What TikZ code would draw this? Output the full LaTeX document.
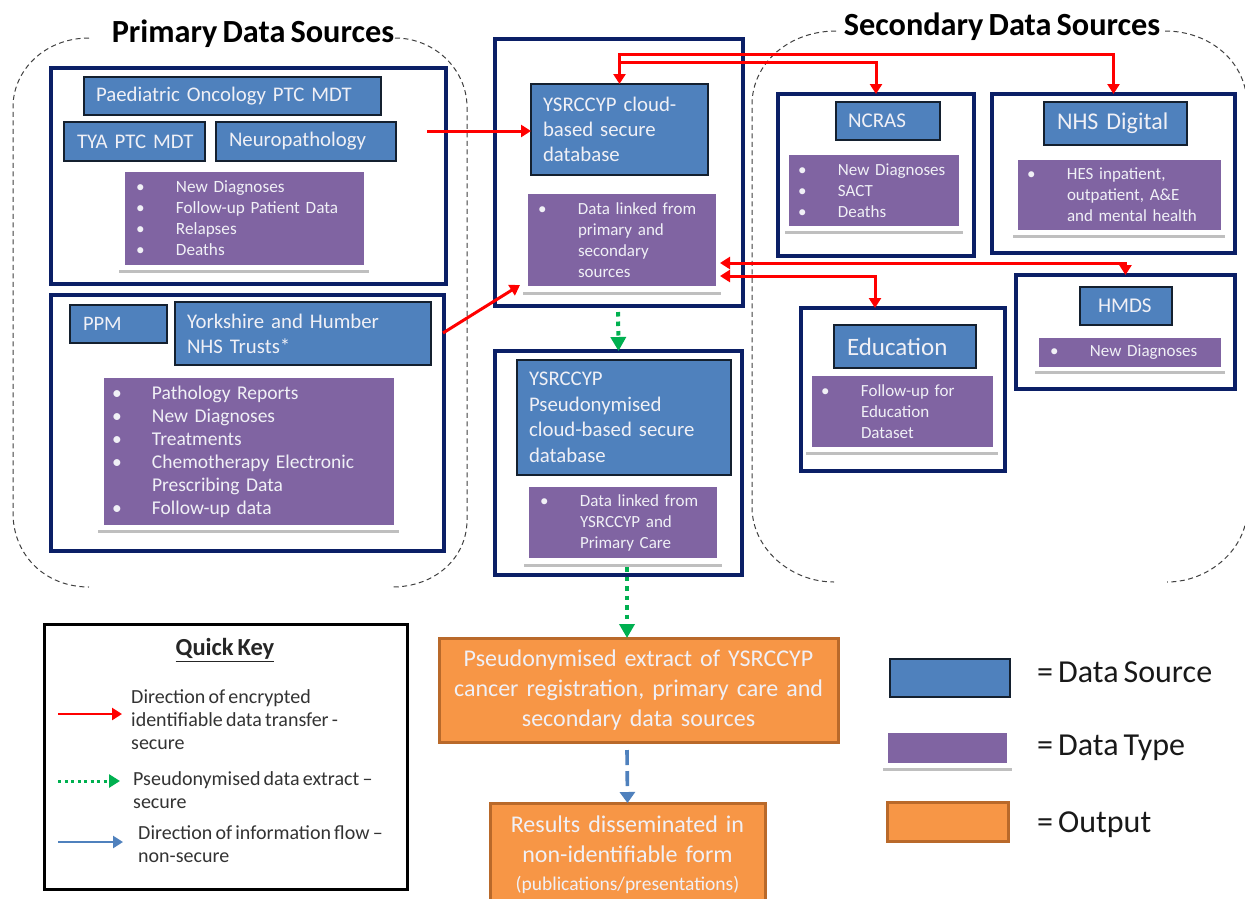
\documentclass[tikz,border=0pt]{standalone}
\usepackage{fontspec}
\setmainfont{Carlito}[WordSpace=0.7]
\usetikzlibrary{arrows.meta,shadows}
\definecolor{srcblue}{HTML}{4F81BD}
\definecolor{typepurple}{HTML}{8064A2}
\definecolor{outorange}{HTML}{F79646}
\definecolor{outedge}{HTML}{B9692A}
\definecolor{navy}{HTML}{0B1F66}
\definecolor{keygreen}{HTML}{00B050}
\definecolor{softwhite}{HTML}{F0F0F6}
\newcommand{\fs}[2]{\fontsize{#1}{#2}\selectfont}
% \pbx{name}{style}{x1}{y1}{x2}{y2}{pad}{text}
\newcommand{\pbx}[8]{%
  \pgfmathsetlengthmacro{\bxw}{(#5-#3)*1pt}%
  \pgfmathsetlengthmacro{\bxh}{(#6-#4)*1pt}%
  \pgfmathsetlengthmacro{\bxt}{(#5-#3-2*#7)*1pt}%
  \pgfmathsetlengthmacro{\bxp}{#7*1pt}%
  \node[#2,minimum width=\bxw,minimum height=\bxh,inner xsep=\bxp,inner ysep=0pt,outer sep=0pt,text width=\bxt] (#1) at ({(#3+#5)/2},{(#4+#6)/2}) {#8};%
}
% \ebx{name}{style}{x1}{y1}{x2}{y2}: empty box
\newcommand{\ebx}[6]{%
  \pgfmathsetlengthmacro{\bxw}{(#5-#3)*1pt}%
  \pgfmathsetlengthmacro{\bxh}{(#6-#4)*1pt}%
  \node[#2,minimum width=\bxw,minimum height=\bxh,inner sep=0pt,outer sep=0pt] (#1) at ({(#3+#5)/2},{(#4+#6)/2}) {};%
}
\newlength{\bld}
\setlength{\bld}{40pt}
\newcommand{\bl}[1]{\makebox[\bld][l]{\textbullet}#1}
\newcommand{\cn}[1]{\hspace*{\bld}#1}
\tikzset{
  group/.style={draw=navy,line width=3.2pt,fill=white},
  srcbox/.style={draw=black!75!srcblue,line width=1.2pt,fill=srcblue,text=softwhite,align=left},
  typebox/.style={fill=typepurple,text=softwhite,align=left},
  plate/.style={fill=white,drop shadow={shadow xshift=0pt,shadow yshift=-2.5pt,opacity=.25,fill=black}},
  outbox/.style={draw=outedge,line width=3pt,fill=outorange,text=softwhite,align=center},
  dashline/.style={draw=black!75,line width=1pt,dash pattern=on 5pt off 3.5pt},
  redline/.style={draw=red,line width=3pt,-{Triangle[length=10pt,width=12pt]}},
  redboth/.style={draw=red,line width=3pt,{Triangle[length=10pt,width=12pt]}-{Triangle[length=10pt,width=12pt]}},
  greenline/.style={draw=keygreen,line width=4pt,dash pattern=on 4.5pt off 5pt,-{Triangle[length=14pt,width=15pt,sep=0pt]}},
  blueline/.style={draw=srcblue,line width=3.6pt,dash pattern=on 15pt off 6pt,-{Triangle[length=11pt,width=15pt]}},
  keyred/.style={draw=red,line width=2.8pt,-{Triangle[length=10pt,width=12pt]}},
  keygreenl/.style={draw=keygreen,line width=3pt,dash pattern=on 3pt off 3.5pt,-{Triangle[length=11pt,width=13pt]}},
  keyblue/.style={draw=srcblue,line width=2.8pt,-{Triangle[length=10pt,width=12pt]}},
  keytext/.style={anchor=west,align=left,inner sep=0pt,text=black!80,font=\fs{20}{23}},
  legtext/.style={anchor=west,inner sep=0pt,text=black!90,font=\fs{32}{34}},
  title/.style={font=\bfseries\fs{32.3}{34},text=black}
}
\begin{document}
\begin{tikzpicture}[x=1pt,y=-1pt]
\clip (0,0) rectangle (1245,898);
\fill[white] (0,0) rectangle (1245,898);
% dashed envelopes
\coordinate (pa) at (89,38); \coordinate (pb) at (13,107); \coordinate (pc) at (13,513); \coordinate (pd) at (89,587);
\coordinate (pe) at (395,38); \coordinate (pf) at (467,107); \coordinate (pg) at (467,520); \coordinate (ph) at (392,587);
\draw[dashline] (pa) .. controls (45,38) and (13,70) .. (pb) -- (pc) .. controls (13,555) and (45,587) .. (pd);
\draw[dashline] (pe) .. controls (435,38) and (467,70) .. (pf) -- (pg) .. controls (467,558) and (435,587) .. (ph);
\coordinate (sa) at (836,31); \coordinate (sb) at (752,105); \coordinate (sc) at (752,507); \coordinate (sd) at (834,582);
\coordinate (se) at (1165,31); \coordinate (sf) at (1247,105); \coordinate (sg) at (1247,510); \coordinate (sh) at (1167,582);
\draw[dashline] (sa) .. controls (790,31) and (752,62) .. (sb) -- (sc) .. controls (752,548) and (790,582) .. (sd);
\draw[dashline] (se) .. controls (1210,31) and (1247,62) .. (sf) -- (sg) .. controls (1247,548) and (1210,582) .. (sh);
% titles
\node[title] (ptitle) at (253,34) {Primary Data Sources};
\node[title] (stitle) at (1002,27) {Secondary Data Sources};
% primary groups
\ebx{pone}{group}{51}{68}{446}{284}
\pbx{paed}{srcbox,font=\fs{20.8}{22}}{84}{77}{381}{115}{12}{Paediatric Oncology PTC MDT}
\pbx{tya}{srcbox,font=\fs{20.8}{22}}{64}{122}{205}{161}{13}{\mbox{TYA PTC MDT}}
\pbx{neuro}{srcbox,font=\fs{20.8}{22}}{216}{122}{396}{161}{13}{Neuropathology}
\ebx{ponep}{plate}{119}{169}{369}{270}
\pbx{ponet}{typebox,font=\fs{17.2}{21}}{125}{172}{364}{265}{11}{\bl{New Diagnoses}\\\bl{Follow-up Patient Data}\\\bl{Relapses}\\\bl{Deaths}}
\ebx{ptwo}{group}{51}{295}{444}{551}
\pbx{ppm}{srcbox,font=\fs{20.5}{22}}{70}{305}{167}{343}{13}{PPM}
\pbx{yh}{srcbox,font=\fs{20.8}{25}}{175}{302}{431}{365}{12}{Yorkshire and Humber\\NHS Trusts*}
\ebx{ptwop}{plate}{98}{375}{399}{530}
\pbx{ptwot}{typebox,font=\fs{19.5}{23}}{104}{378}{394}{525}{8}{\bl{Pathology Reports}\\\bl{New Diagnoses}\\\bl{Treatments}\\\bl{Chemotherapy Electronic}\\\cn{Prescribing Data}\\\bl{Follow-up data}}
% centre groups
\ebx{cone}{group}{495}{39}{743}{306}
\pbx{ysr}{srcbox,font=\fs{20.8}{25}}{531}{84}{708}{175}{12}{YSRCCYP cloud-\\based secure\\database}
\ebx{conep}{plate}{523}{190}{721}{292}
\pbx{conet}{typebox,font=\fs{17}{21}}{528}{194}{716}{286}{10}{\bl{Data linked from}\\\cn{primary and}\\\cn{secondary}\\\cn{sources}}
\ebx{ctwo}{group}{495}{351}{742}{575}
\pbx{pseu}{srcbox,font=\fs{20.8}{25.5}}{517}{360}{731}{475}{12}{YSRCCYP\\Pseudonymised\\cloud-based secure\\database}
\ebx{ctwop}{plate}{524}{483}{722}{564}
\pbx{ctwot}{typebox,font=\fs{17}{21}}{529}{487}{717}{558}{11}{\bl{Data linked from}\\\cn{YSRCCYP and}\\\cn{Primary Care}}
% secondary groups
\ebx{ncrasg}{group}{778}{94}{974}{256}
\pbx{ncras}{srcbox,font=\fs{21}{22}}{836}{102}{940}{140}{12}{NCRAS}
\ebx{ncrasp}{plate}{785}{152}{963}{231}
\pbx{ncrast}{typebox,font=\fs{17}{21}}{789}{155}{959}{226}{9}{\bl{New Diagnoses}\\\bl{SACT}\\\bl{Deaths}}
\ebx{nhsg}{group}{992}{94}{1235}{253}
\pbx{nhs}{srcbox,font=\fs{24}{26}}{1044}{102}{1187}{145}{13}{NHS Digital}
\ebx{nhsp}{plate}{1013}{157}{1225}{235}
\pbx{nhst}{typebox,font=\fs{17}{21}}{1018}{160}{1221}{230}{9}{\bl{HES inpatient,}\\\cn{outpatient, A\&E}\\\cn{and mental health}}
\ebx{hmdsg}{group}{1016}{275}{1235}{389}
\pbx{hmds}{srcbox,font=\fs{21}{22}}{1080}{287}{1172}{325}{18}{HMDS}
\ebx{hmdsp}{plate}{1035}{335}{1225}{371}
\pbx{hmdst}{typebox,font=\fs{17}{21}}{1039}{338}{1221}{367}{11}{\bl{New Diagnoses}}
\ebx{edug}{group}{801}{308}{1005}{471}
\pbx{edu}{srcbox,font=\fs{25}{26}}{834}{325}{976}{368}{13}{Education}
\ebx{edup}{plate}{806}{373}{998}{452}
\pbx{edut}{typebox,font=\fs{17}{21}}{812}{376}{993}{447}{9}{\bl{Follow-up for}\\\cn{Education}\\\cn{Dataset}}
% outputs
\pbx{oone}{outbox,font=\fs{24}{30}}{439}{638}{838}{742}{6}{Pseudonymised extract of YSRCCYP\\cancer registration, primary care and\\secondary data sources}
\pbx{otwo}{outbox,font=\fs{24}{30.5}}{490}{803}{765}{906}{4}{Results disseminated in\\non-identifiable form\\[-3pt]{\fs{19.5}{20}(publications/presentations)}}
% quick key
\ebx{key}{draw=black,line width=3pt,fill=white}{44}{624}{407}{889}
\node[font=\bfseries\fs{24.5}{26},text=black!85] (keyhead) at (225,650) {\underline{Quick Key}};
\node[keytext] (kt1) at (131,720) {Direction of encrypted\\identifiable data transfer -\\secure};
\node[keytext] (kt2) at (133,790) {Pseudonymised data extract\,--\\secure};
\node[keytext] (kt3) at (138,844) {Direction of information flow\,--\\non-secure};
\coordinate (ka1) at (58,714); \coordinate (ka2) at (122,714);
\coordinate (kb1) at (58,781); \coordinate (kb2) at (120,781);
\coordinate (kc1) at (58,842); \coordinate (kc2) at (123,842);
\draw[keyred] (ka1) -- (ka2);
\draw[keygreenl] (kb1) -- (kb2);
\draw[keyblue] (kc1) -- (kc2);
% legend
\ebx{lblue}{draw=black!75!srcblue,line width=1.2pt,fill=srcblue}{890}{659}{1010}{697}
\ebx{lplate}{plate}{883}{729}{1012}{768}
\ebx{lpurple}{fill=typepurple}{888}{733}{1007}{763}
\ebx{lorange}{outbox}{887}{802}{1008}{841}
\node[legtext] (l1) at (1037,672) {= Data Source};
\node[legtext] (l2) at (1037,748) {= Data Type};
\node[legtext] (l3) at (1037,825) {= Output};
% red connectors
\coordinate (rj1) at (800,54);
\coordinate (rj2) at (620,62);
\draw[redboth] (ysr.north) |- (rj1) -| (nhsg.north);
\draw[redline] (rj2) -| (ncrasg.north);
\coordinate (rs1) at (427,131);
\draw[redline] (rs1) -- (ysr.west |- rs1);
\coordinate (rs2) at (443,333);
\coordinate (rs3) at (520,285);
\draw[redline] (rs2) -- (rs3);
\coordinate (ra1) at (720,263);
\coordinate (ra2) at (720,276);
\coordinate (re1) at (875,308);
\draw[redboth] (ra1) -| (hmdsg.north);
\draw[redboth] (ra2) -| (re1);
% green and blue connectors
\coordinate (g1) at (618,312);
\coordinate (g2) at (627,567);
\draw[greenline] (g1) -- (ctwo.north);
\draw[greenline] (g2) -- (g2 |- oone.north);
\coordinate (b1) at (627,750);
\draw[blueline] (b1) -- (otwo.north);
\end{tikzpicture}
\end{document}
